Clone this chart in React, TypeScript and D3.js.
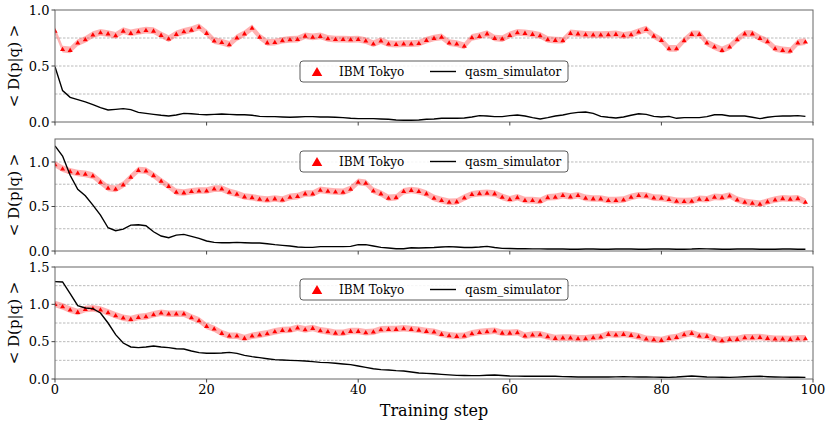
import React from "react";
import * as d3 from "d3";

// training steps 0..99
const steps: number[] = d3.range(100);

// panel 1
const ibm1 = [
  0.815, 0.65, 0.643, 0.708, 0.738, 0.78, 0.8, 0.79, 0.774, 0.815,
  0.795, 0.81, 0.82, 0.815, 0.777, 0.744, 0.786, 0.81, 0.824, 0.85,
  0.795, 0.726, 0.714, 0.693, 0.753, 0.79, 0.84, 0.76, 0.71, 0.714,
  0.73, 0.738, 0.74, 0.77, 0.76, 0.768, 0.747, 0.74, 0.74, 0.738,
  0.74, 0.726, 0.7, 0.726, 0.7, 0.696, 0.7, 0.7, 0.705, 0.732,
  0.75, 0.76, 0.708, 0.7, 0.68, 0.756, 0.768, 0.79, 0.75, 0.744,
  0.777, 0.8, 0.795, 0.786, 0.774, 0.738, 0.732, 0.73, 0.795, 0.79,
  0.783, 0.78, 0.78, 0.783, 0.786, 0.774, 0.783, 0.807, 0.83, 0.77,
  0.732, 0.658, 0.658, 0.73, 0.786, 0.786, 0.708, 0.673, 0.643, 0.673,
  0.738, 0.79, 0.79, 0.75, 0.72, 0.658, 0.643, 0.637, 0.708, 0.717,
];
const qasm1 = [
  0.494, 0.28, 0.22, 0.2, 0.18, 0.155, 0.128, 0.107, 0.113, 0.119,
  0.11, 0.086, 0.077, 0.068, 0.06, 0.054, 0.062, 0.077, 0.074, 0.068,
  0.065, 0.068, 0.071, 0.068, 0.065, 0.065, 0.06, 0.05, 0.048, 0.048,
  0.045, 0.042, 0.045, 0.048, 0.048, 0.045, 0.045, 0.042, 0.039, 0.033,
  0.03, 0.03, 0.03, 0.027, 0.024, 0.018, 0.015, 0.015, 0.018, 0.024,
  0.027, 0.033, 0.033, 0.033, 0.036, 0.045, 0.057, 0.054, 0.048, 0.048,
  0.057, 0.062, 0.054, 0.039, 0.027, 0.039, 0.054, 0.062, 0.077, 0.086,
  0.089, 0.077, 0.05, 0.042, 0.036, 0.045, 0.06, 0.074, 0.068, 0.05,
  0.045, 0.05, 0.033, 0.039, 0.039, 0.039, 0.048, 0.065, 0.065, 0.054,
  0.054, 0.054, 0.042, 0.03, 0.042, 0.05, 0.054, 0.054, 0.057, 0.05,
];

// panel 2
const ibm2 = [
  0.974, 0.925, 0.896, 0.877, 0.866, 0.847, 0.776, 0.709, 0.698, 0.746,
  0.832, 0.91, 0.903, 0.851, 0.787, 0.728, 0.664, 0.657, 0.672, 0.679,
  0.679, 0.701, 0.701, 0.664, 0.642, 0.612, 0.604, 0.586, 0.578, 0.59,
  0.578, 0.608, 0.616, 0.646, 0.646, 0.687, 0.675, 0.668, 0.664, 0.698,
  0.776, 0.765, 0.679, 0.646, 0.597, 0.604, 0.672, 0.685, 0.673, 0.646,
  0.597, 0.571, 0.552, 0.556, 0.6, 0.638, 0.649, 0.653, 0.646, 0.608,
  0.582, 0.604, 0.571, 0.571, 0.563, 0.604, 0.608, 0.627, 0.612, 0.627,
  0.597, 0.59, 0.59, 0.571, 0.571, 0.578, 0.608, 0.627, 0.623, 0.6,
  0.597, 0.582, 0.563, 0.56, 0.563, 0.586, 0.582, 0.608, 0.604, 0.623,
  0.578, 0.552, 0.541, 0.53, 0.556, 0.578, 0.593, 0.586, 0.593, 0.552,
];
const qasm2 = [
  1.18, 1.067, 0.85, 0.694, 0.62, 0.515, 0.403, 0.261, 0.228, 0.246,
  0.291, 0.295, 0.284, 0.216, 0.168, 0.149, 0.179, 0.187, 0.164, 0.142,
  0.112, 0.097, 0.093, 0.093, 0.097, 0.093, 0.09, 0.09, 0.082, 0.071,
  0.063, 0.056, 0.045, 0.041, 0.041, 0.049, 0.049, 0.049, 0.049, 0.052,
  0.071, 0.071, 0.056, 0.041, 0.034, 0.026, 0.026, 0.037, 0.034, 0.037,
  0.04, 0.045, 0.049, 0.045, 0.04, 0.04, 0.045, 0.052, 0.04, 0.03,
  0.028, 0.026, 0.025, 0.024, 0.024, 0.022, 0.022, 0.022, 0.02, 0.02,
  0.022, 0.022, 0.02, 0.02, 0.022, 0.024, 0.022, 0.02, 0.02, 0.022,
  0.024, 0.022, 0.02, 0.02, 0.022, 0.026, 0.024, 0.022, 0.02, 0.02,
  0.022, 0.024, 0.022, 0.02, 0.02, 0.02, 0.022, 0.022, 0.02, 0.019,
];

// panel 3
const ibm3 = [
  1.004, 0.973, 0.929, 0.897, 0.9375, 0.946, 0.929, 0.893, 0.853, 0.821,
  0.804, 0.83, 0.839, 0.866, 0.888, 0.875, 0.875, 0.875, 0.826, 0.786,
  0.71, 0.674, 0.616, 0.58, 0.58, 0.549, 0.58, 0.594, 0.612, 0.638,
  0.656, 0.66, 0.6875, 0.665, 0.683, 0.652, 0.638, 0.62, 0.62, 0.643,
  0.643, 0.625, 0.634, 0.665, 0.67, 0.67, 0.679, 0.67, 0.66, 0.643,
  0.634, 0.603, 0.585, 0.576, 0.58, 0.612, 0.629, 0.638, 0.647, 0.62,
  0.62, 0.625, 0.58, 0.594, 0.598, 0.571, 0.549, 0.554, 0.554, 0.545,
  0.545, 0.558, 0.567, 0.603, 0.594, 0.603, 0.589, 0.571, 0.54, 0.531,
  0.522, 0.549, 0.5625, 0.598, 0.616, 0.58, 0.576, 0.54, 0.518, 0.536,
  0.536, 0.558, 0.558, 0.5625, 0.549, 0.54, 0.54, 0.536, 0.545, 0.545,
];
const qasm3 = [
  1.304, 1.3, 1.143, 0.982, 0.951, 0.942, 0.884, 0.75, 0.594, 0.482,
  0.429, 0.42, 0.429, 0.442, 0.429, 0.42, 0.406, 0.402, 0.375, 0.353,
  0.344, 0.344, 0.348, 0.357, 0.344, 0.317, 0.299, 0.286, 0.272, 0.259,
  0.254, 0.25, 0.246, 0.241, 0.232, 0.223, 0.219, 0.21, 0.2, 0.192,
  0.174, 0.156, 0.138, 0.125, 0.12, 0.112, 0.107, 0.094, 0.08, 0.076,
  0.07, 0.0625, 0.055, 0.049, 0.047, 0.045, 0.045, 0.05, 0.054, 0.047,
  0.04, 0.038, 0.037, 0.036, 0.036, 0.036, 0.036, 0.032, 0.03, 0.027,
  0.027, 0.027, 0.027, 0.027, 0.029, 0.031, 0.029, 0.027, 0.027, 0.025,
  0.023, 0.022, 0.026, 0.033, 0.04, 0.033, 0.027, 0.025, 0.023, 0.022,
  0.025, 0.03, 0.034, 0.036, 0.031, 0.027, 0.025, 0.024, 0.023, 0.022,
];

// half width of the shaded spread around IBM Tokyo
const spreads = [0.03, 0.037, 0.044];
const xTicks = [0, 20, 40, 60, 80, 100];
const yTickSets = [
  [0, 0.5, 1.0],
  [0, 0.5, 1.0],
  [0, 0.5, 1.0, 1.5],
];
const gridSets = [
  [0.25, 0.5, 0.75],
  [0.25, 0.5, 0.75, 1.0],
  [0.25, 0.5, 0.75, 1.0, 1.25],
];
const yMaxes = [1.0, 1.258, 1.5];
const ibmSeries = [ibm1, ibm2, ibm3];
const qasmSeries = [qasm1, qasm2, qasm3];
const legendLabels = ["IBM Tokyo", "qasm_simulator"];

const W = 831;
const H = 425;
const FONT = "DejaVu Serif, serif";
const left = 55;
const right = 813;
const panelBoxes = [
  { top: 10, bottom: 122, legendTop: 61 },
  { top: 139, bottom: 251, legendTop: 151 },
  { top: 267, bottom: 379, legendTop: 279 },
];

const x = d3.scaleLinear().domain([0, 100]).range([left, right]);

const tri = (cx: number, cy: number, s: number) =>
  `M${cx},${cy - s}L${cx + s * 1.05},${cy + s * 0.8}L${cx - s * 1.05},${cy + s * 0.8}Z`;

const Panel: React.FC<{ idx: number }> = ({ idx }) => {
  const box = panelBoxes[idx];
  const y = d3.scaleLinear().domain([0, yMaxes[idx]]).range([box.bottom, box.top]);
  const ibm = ibmSeries[idx];
  const qasm = qasmSeries[idx];
  const sp = spreads[idx];

  const band = d3
    .area<number>()
    .x((_, i) => x(steps[i]))
    .y0((d) => y(d - sp))
    .y1((d) => y(d + sp));
  const line = d3
    .line<number>()
    .x((_, i) => x(steps[i]))
    .y((d) => y(d));

  const isBottom = idx === 2;
  const lg = box.legendTop;
  const lh = 21;

  return (
    <g>
      <defs>
        <clipPath id={`clip${idx}`}>
          <rect x={left} y={box.top} width={right - left} height={box.bottom - box.top} />
        </clipPath>
      </defs>
      {gridSets[idx].map((g) => (
        <line
          key={g}
          x1={left}
          x2={right}
          y1={y(g)}
          y2={y(g)}
          stroke="#a8a8a8"
          strokeWidth={0.8}
          strokeDasharray="2.5,1.5"
        />
      ))}
      <g clipPath={`url(#clip${idx})`}>
        <path d={band(ibm) || ""} fill="rgba(255,0,0,0.3)" stroke="none" />
        {ibm.map((v, i) => (
          <path key={i} d={tri(x(steps[i]), y(v), 2.4)} fill="#ff0000" />
        ))}
        <path d={line(qasm) || ""} fill="none" stroke="#000" strokeWidth={1.4} />
      </g>
      <rect
        x={left}
        y={box.top}
        width={right - left}
        height={box.bottom - box.top}
        fill="none"
        stroke="#666"
        strokeWidth={1}
      />
      {xTicks.map((t) => (
        <g key={t}>
          <line x1={x(t)} x2={x(t)} y1={box.bottom} y2={box.bottom + 3.5} stroke="#444" />
          {isBottom && (
            <text x={x(t)} y={box.bottom + 15} textAnchor="middle" fontSize={13} fontFamily={FONT}>
              {t}
            </text>
          )}
        </g>
      ))}
      {yTickSets[idx].map((t) => (
        <g key={t}>
          <line x1={left - 3.5} x2={left} y1={y(t)} y2={y(t)} stroke="#444" />
          <text
            x={left - 5.5}
            y={y(t)}
            dy="0.36em"
            textAnchor="end"
            fontSize={13}
            fontFamily={FONT}
          >
            {t.toFixed(1)}
          </text>
        </g>
      ))}
      <text
        transform={`translate(19,${(box.top + box.bottom) / 2}) rotate(-90)`}
        textAnchor="middle"
        fontSize={15}
        fontFamily={FONT}
      >
        {"< D(p|q) >"}
      </text>
      <g>
        <rect
          x={300}
          y={lg}
          width={268}
          height={lh}
          rx={3}
          fill="white"
          fillOpacity={0.85}
          stroke="#333"
          strokeWidth={0.8}
        />
        <path d={tri(317, lg + lh / 2 + 0.5, 5)} fill="#ff0000" />
        <text x={339} y={lg + lh / 2} dy="0.36em" fontSize={12} fontFamily={FONT}>
          {legendLabels[0]}
        </text>
        <line x1={430} x2={456} y1={lg + lh / 2} y2={lg + lh / 2} stroke="#000" strokeWidth={1.4} />
        <text x={465} y={lg + lh / 2} dy="0.36em" fontSize={12} fontFamily={FONT}>
          {legendLabels[1]}
        </text>
      </g>
    </g>
  );
};

export default function App() {
  return (
    <svg
      width={W}
      height={H}
      viewBox={`0 0 ${W} ${H}`}
      style={{ position: "absolute", left: 0, top: 0, background: "white" }}
    >
      {[0, 1, 2].map((i) => (
        <Panel key={i} idx={i} />
      ))}
      <text x={434} y={416} textAnchor="middle" fontSize={16} fontFamily={FONT}>
        Training step
      </text>
    </svg>
  );
}
